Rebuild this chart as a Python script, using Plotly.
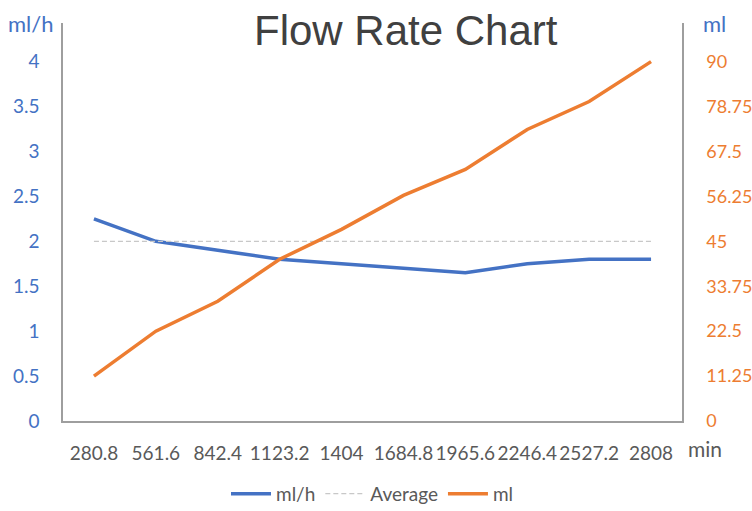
import plotly.graph_objects as go

# ---- data ----
minutes = ["280.8", "561.6", "842.4", "1123.2", "1404", "1684.8", "1965.6", "2246.4", "2527.2", "2808"]
flow_rate = [2.25, 2.0, 1.9, 1.8, 1.75, 1.7, 1.65, 1.75, 1.8, 1.8]
average = [2, 2, 2, 2, 2, 2, 2, 2, 2, 2]
volume = [11.25, 22.5, 30, 40.5, 48, 56.5, 63, 73, 80, 90]

left_ticks = [0, 0.5, 1, 1.5, 2, 2.5, 3, 3.5, 4]
left_ticktext = ["0", "0.5", "1", "1.5", "2", "2.5", "3", "3.5", "4"]
right_ticks = [0, 11.25, 22.5, 33.75, 45, 56.25, 67.5, 78.75, 90]
right_ticktext = ["0", "11.25", "22.5", "33.75", "45", "56.25", "67.5", "78.75", "90"]

BLUE = "#4472C4"
ORANGE = "#ED7D31"
GRAY_TXT = "#595959"
AXIS = "#9E9E9E"
FONT = "Lato"
TICK = 19

fig = go.Figure()
fig.add_trace(go.Scatter(x=minutes, y=flow_rate, name="ml/h", mode="lines",
                         line=dict(color=BLUE, width=3.5), yaxis="y"))
fig.add_trace(go.Scatter(x=minutes, y=average, name="Average", mode="lines",
                         line=dict(color="#C8C8C8", width=1.2, dash="5px,3px"), yaxis="y"))
fig.add_trace(go.Scatter(x=minutes, y=volume, name="ml", mode="lines",
                         line=dict(color=ORANGE, width=3.5), yaxis="y2"))

left_max = 4.43
fig.update_layout(
    width=752, height=511,
    margin=dict(l=63, r=70, t=23, b=90, autoexpand=False),
    paper_bgcolor="white", plot_bgcolor="white",
    font=dict(family=FONT, size=TICK, color=GRAY_TXT),
    showlegend=True,
    legend=dict(orientation="h", x=0.5, xanchor="center", y=-0.183, yanchor="middle",
                font=dict(family=FONT, size=19, color=GRAY_TXT), itemwidth=40,
                traceorder="normal", bgcolor="rgba(0,0,0,0)"),
    xaxis=dict(type="category", range=[-0.5, 9.5], showgrid=False, zeroline=False,
               showline=True, linecolor=AXIS, linewidth=1.5, mirror=False, automargin=False,
               ticks="", ticklabelstandoff=14,
               tickfont=dict(family=FONT, size=TICK, color=GRAY_TXT)),
    yaxis=dict(range=[0, left_max], tickvals=left_ticks, ticktext=left_ticktext,
               showgrid=False, zeroline=False, showline=True, linecolor=AXIS, linewidth=1.5,
               ticks="", ticklabelstandoff=18, automargin=False,
               tickfont=dict(family=FONT, size=TICK, color=BLUE)),
    yaxis2=dict(range=[0, left_max * 22.5], tickvals=right_ticks, ticktext=right_ticktext,
                overlaying="y", side="right", showgrid=False, zeroline=False, automargin=False,
                showline=True, linecolor=AXIS, linewidth=1.5, ticks="", ticklabelstandoff=19,
                tickfont=dict(family=FONT, size=18, color=ORANGE)),
    annotations=[
        dict(text="Flow Rate Chart", xref="paper", yref="paper", x=0.554, y=0.98,
             xanchor="center", yanchor="middle", showarrow=False,
             font=dict(family="Liberation Sans", size=42, color="#404040")),
        dict(text="ml/h", xref="paper", yref="paper", x=-0.052, y=1.0,
             xanchor="center", yanchor="middle", showarrow=False,
             font=dict(family=FONT, size=22, color=BLUE)),
        dict(text="ml", xref="paper", yref="paper", x=1.052, y=1.0,
             xanchor="center", yanchor="middle", showarrow=False,
             font=dict(family=FONT, size=22, color=BLUE)),
        dict(text="min", xref="paper", yref="paper", x=1.037, y=-0.068,
             xanchor="center", yanchor="middle", showarrow=False,
             font=dict(family=FONT, size=21, color=GRAY_TXT)),
    ],
)

fig.write_html("out.html", config={"displayModeBar": False},
               post_script="document.body.style.margin='0px';")
